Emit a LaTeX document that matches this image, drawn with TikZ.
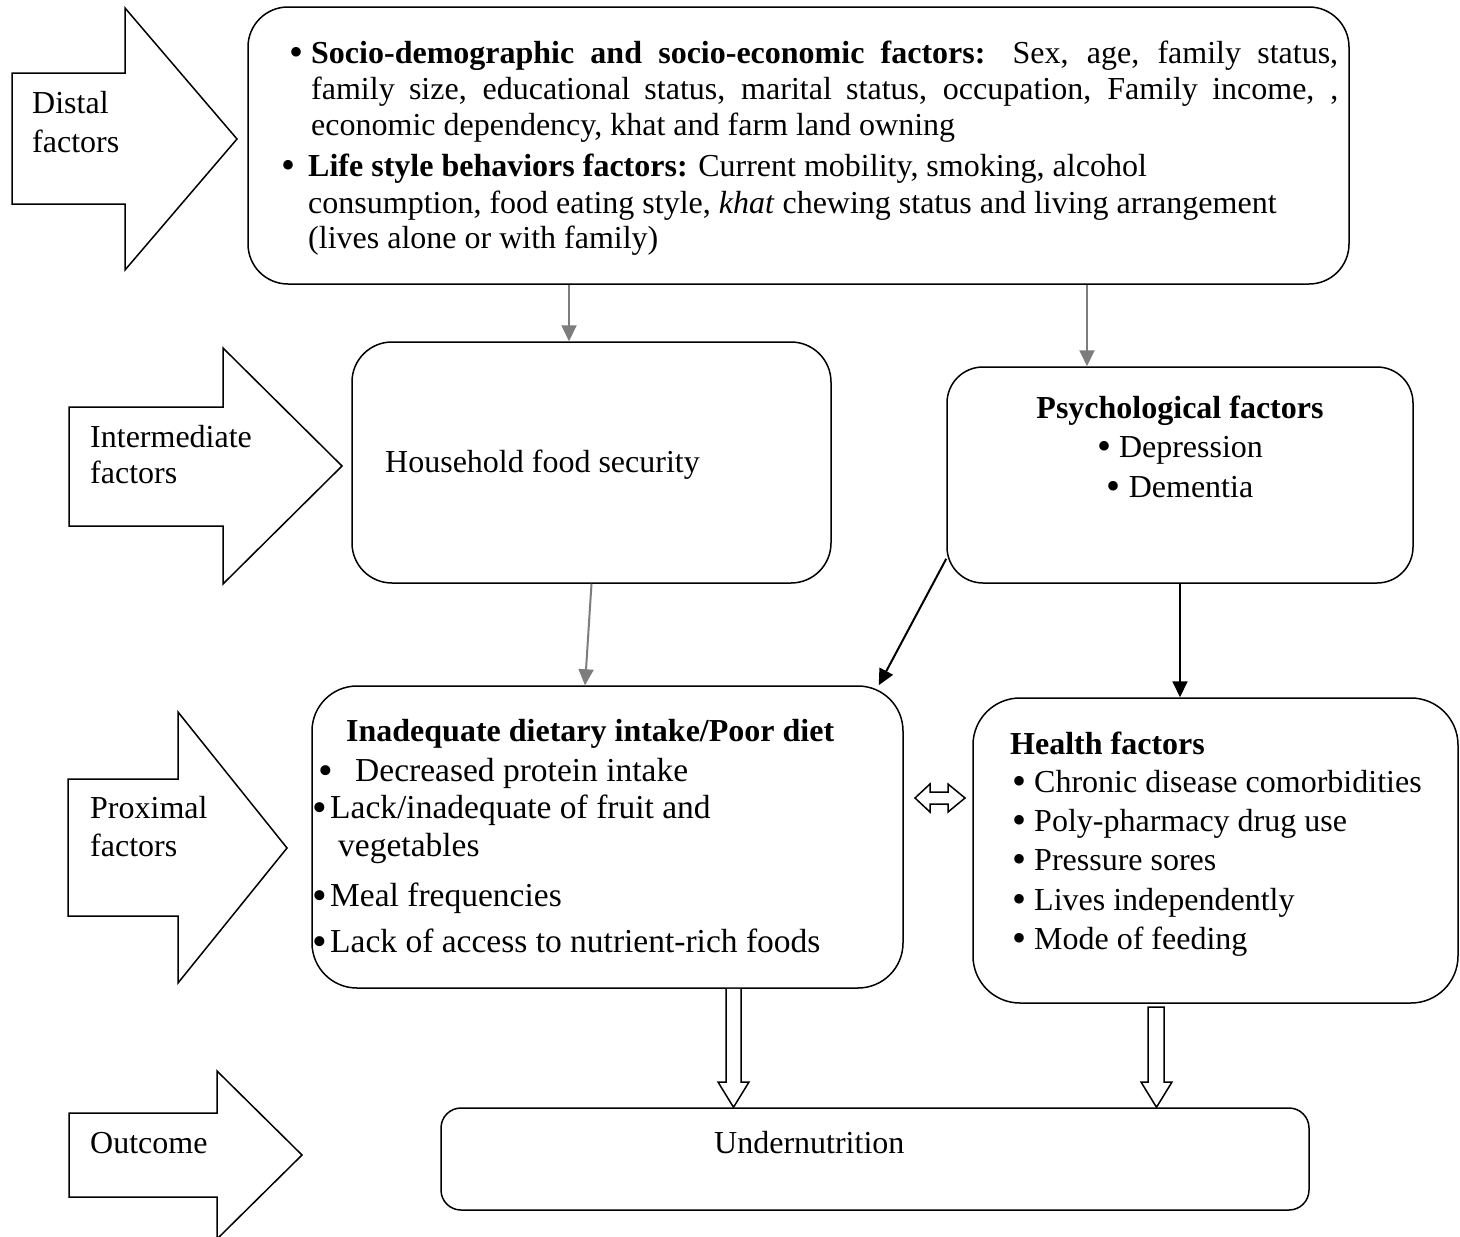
\documentclass[tikz,border=0pt]{standalone}
\usepackage{fontspec}
\setmainfont{Liberation Serif}
\usetikzlibrary{arrows.meta,calc}
\definecolor{arrgray}{RGB}{125,125,125}
\tikzset{
  box/.style={draw, line width=1.5pt, rounded corners=40pt, inner sep=0pt, fill=white},
  lbl/.style={anchor=base west, inner sep=0pt},
  clbl/.style={anchor=base, inner sep=0pt},
  dlbl/.style={anchor=base west, inner sep=0pt, font=\fontsize{33.5pt}{37.5pt}\selectfont},
  garr/.style={draw=arrgray, line width=2pt, -{Triangle[length=16pt,width=15pt]}},
  barr/.style={draw=black, line width=2pt, -{Triangle[length=16pt,width=15pt]}},
  blockarr/.style={draw, line width=1.5pt, fill=white, line join=miter},
  hollow/.style={draw, line width=1.5pt, fill=white, line join=miter},
}
\newcommand{\bigbul}{\raisebox{-0.09em}{\scalebox{1.25}{\textbullet}}}
\newcommand{\bul}[1]{\llap{\bigbul\hspace{#1}}}
\begin{document}
\begin{tikzpicture}[x=1pt,y=-1pt,font=\fontsize{32pt}{37.5pt}\selectfont]
\path[use as bounding box, fill=white] (0,0) rectangle (1460,1237);

% level block arrows
\draw[blockarr] (12,73) -- (125,73) -- (125,8) -- (237,139) -- (125,270) -- (125,204) -- (12,204) -- cycle;
\draw[blockarr] (69,407) -- (223,407) -- (223,348) -- (342,466) -- (223,584) -- (223,526) -- (69,526) -- cycle;
\draw[blockarr] (68,779) -- (178,779) -- (178,712) -- (287,848) -- (178,983) -- (178,916) -- (68,916) -- cycle;
\draw[blockarr] (69,1113) -- (217,1113) -- (217,1071) -- (302,1155) -- (217,1239) -- (217,1197) -- (69,1197) -- cycle;

\node[lbl] (ld1) at (32,113) {Distal};
\node[lbl] (ld2) at (32,152) {factors};
\node[lbl] (li1) at (90,447) {Intermediate};
\node[lbl] (li2) at (90,483) {factors};
\node[lbl] (lp1) at (90,818) {Proximal};
\node[lbl] (lp2) at (90,856) {factors};
\node[lbl] (lo1) at (90,1153) {Outcome};

% boxes
\node[box, minimum width=1101pt, minimum height=277pt] (top) at (798.5,145.5) {};
\node[box, minimum width=479pt, minimum height=241pt] (hh) at (591.5,462.5) {};
\node[box, minimum width=466pt, minimum height=216pt, rounded corners=36pt] (psy) at (1180,475) {};
\node[box, minimum width=591pt, minimum height=302pt, rounded corners=45pt] (diet) at (607.5,837) {};
\node[box, minimum width=485pt, minimum height=305pt, rounded corners=47pt] (health) at (1215.5,850.5) {};
\node[box, minimum width=868pt, minimum height=102pt, rounded corners=20pt] (und) at (875,1159) {};

% top box text
\node[lbl] (t1) at (311,63) {\bul{8pt}\makebox[1027pt][s]{\textbf{Socio-demographic and socio-economic factors:} Sex, age, family status,}};
\node[lbl] (t2) at (311,99) {\makebox[1027pt][s]{family size, educational status, marital status, occupation, Family income, ,}};
\node[lbl] (t3) at (311,135) {economic dependency, khat and farm land owning};
\node[lbl] (t4) at (308,176) {\bul{13pt}\textbf{Life style behaviors factors:} Current mobility, smoking, alcohol};
\node[lbl] (t5) at (308,213) {consumption, food eating style, \textit{khat} chewing status and living arrangement};
\node[lbl] (t6) at (308,248) {(lives alone or with family)};

% household
\node[lbl] (h1) at (385,472) {Household food security};

% psychological
\node[clbl] (p1) at (1180,418) {\textbf{Psychological factors}};
\node[clbl] (p2) at (1180,457) {\bigbul\ Depression};
\node[clbl] (p3) at (1180,497) {\bigbul\ Dementia};

% diet
\node[lbl] (d0) at (346,741) {\textbf{Inadequate dietary intake/Poor diet}};
\node[dlbl] (d1) at (355,781) {\bul{22pt}Decreased protein intake};
\node[dlbl] (d2) at (330,818) {\bul{3pt}Lack/inadequate of fruit and};
\node[dlbl] (d3) at (338,856) {vegetables};
\node[dlbl] (d4) at (330,906) {\bul{3pt}Meal frequencies};
\node[dlbl] (d5) at (330,952) {\bul{3pt}Lack of access to nutrient-rich foods};

% health
\node[lbl] (e0) at (1010,754) {\textbf{Health factors}};
\node[lbl] (e1) at (1012,792) {\bigbul\ Chronic disease comorbidities};
\node[lbl] (e2) at (1012,831) {\bigbul\ Poly-pharmacy drug use};
\node[lbl] (e3) at (1012,870) {\bigbul\ Pressure sores};
\node[lbl] (e4) at (1012,910) {\bigbul\ Lives independently};
\node[lbl] (e5) at (1012,949) {\bigbul\ Mode of feeding};

% undernutrition
\node[lbl] (u1) at (714,1153) {Undernutrition};

% connectors
\draw[garr] ([xshift=-229.5pt]top.south) -- ([xshift=-22.5pt]hh.north);
\draw[garr] ([xshift=288.5pt]top.south) -- ([xshift=-93pt]psy.north);
\draw[garr] (hh.south) -- ([xshift=-22.5pt]diet.north);
\draw[barr] ([yshift=25pt]psy.south west) -- ([xshift=-25pt]diet.north east);
\draw[barr] (psy.south) -- (psy.south |- health.north);

% double arrow between diet and health
\draw[hollow] (915,798) -- (930,784) -- (930,792) -- (948,792) -- (948,784) -- (965,798) -- (948,812) -- (948,804) -- (930,804) -- (930,812) -- cycle;

% hollow arrows to outcome
\draw[hollow] (diet.south -| 726,0) -- (726,1082) -- (718,1082) -- (und.north -| 733.5,0) -- (749,1082) -- (741,1082) -- (diet.south -| 741,0);
\draw[hollow] (1148,1007) -- (1164,1007) -- (1164,1082) -- (1172,1082) -- (und.north -| 1156.5,0) -- (1141,1082) -- (1148,1082) -- cycle;
\end{tikzpicture}
\end{document}
